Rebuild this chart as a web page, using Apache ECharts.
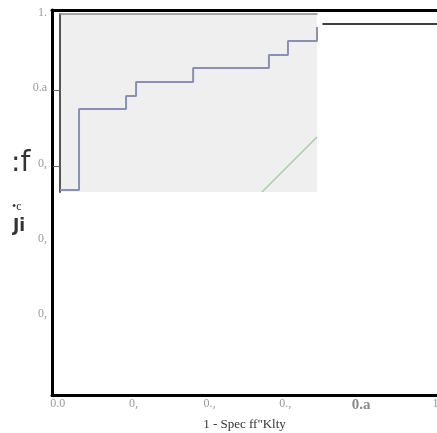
<!DOCTYPE html>
<html>
<head>
<meta charset="utf-8">
<script src="https://cdn.jsdelivr.net/npm/echarts@6/dist/echarts.min.js"></script>
<style>html,body{margin:0;padding:0;background:#fff}#c{width:437px;height:433px}</style>
</head>
<body>
<div id="c"></div>
<script>
// Outer axis tick labels (as they appear in the picture)
var xTickValues = [0, 0.2, 0.4, 0.6, 0.8, 1.0];
var xTickLabels = ['0.0', '0,', '0.,', '0.,', '0.a', '1.'];
var yTickValues = [0.2, 0.4, 0.6, 0.8, 1.0];
var yTickLabels = ['0,', '0,', '0,', '0.a', '1.'];
var xAxisTitle = '1 - Spec ff"Klty';

// Inset (cropped ROC panel) values, in inset units 0..1
var rocX = [0, 0.074, 0.257, 0.296, 0.518, 0.813, 0.887, 1.0];
var rocY = [0.011, 0.466, 0.539, 0.618, 0.697, 0.770, 0.848, 0.927];
var refX = [0.786, 1.0];
var refY = [0.0, 0.309];
var insetTickValues = [0.146, 0.573];

var chart = echarts.init(document.getElementById('c'));
var serif = '"Liberation Serif", "DejaVu Serif", serif';

function lab(vals, labs, boldIdx) {
  return function (v) {
    for (var i = 0; i < vals.length; i++) if (Math.abs(vals[i] - v) < 1e-6) {
      return i === boldIdx ? '{b|' + labs[i] + '}' : labs[i];
    }
    return '';
  };
}

chart.setOption({
  animation: false,
  backgroundColor: '#fff',
  grid: [
    {left: 52, right: 0, top: 10, bottom: 38, containLabel: false, outerBoundsMode: 'none'},
    {left: 60, top: 14, width: 257, height: 178, show: true, backgroundColor: '#efefef', borderWidth: 0, outerBoundsMode: 'none'},
    {left: 323, right: 0, top: 24, height: 1, outerBoundsMode: 'none'}
  ],
  xAxis: [
    {gridIndex: 0, type: 'value', min: -0.015, max: 1.0,
     axisLine: {show: true, onZero: false, lineStyle: {color: '#000', width: 3}},
     axisTick: {show: false}, splitLine: {show: false},
     axisLabel: {customValues: xTickValues, formatter: lab(xTickValues, xTickLabels, 4), color: '#9a9a9a', fontFamily: serif, fontSize: 12, margin: 3,
       rich: {b: {color: '#8a8a8a', fontFamily: serif, fontSize: 15, fontWeight: 'bold'}}},
     name: xAxisTitle, nameLocation: 'middle', nameGap: 19,
     nameTextStyle: {color: '#333', fontFamily: serif, fontSize: 13}},
    {gridIndex: 0, type: 'value', position: 'top', min: 0, max: 1,
     axisLine: {show: true, onZero: false, lineStyle: {color: '#000', width: 3}},
     axisTick: {show: false}, axisLabel: {show: false}, splitLine: {show: false}},
    {gridIndex: 1, type: 'value', min: 0, max: 1, show: true, position: 'top',
     axisLine: {show: true, onZero: false, lineStyle: {color: '#8a8a8a', width: 1.5}},
     axisTick: {show: false}, axisLabel: {show: false}, splitLine: {show: false}},
    {gridIndex: 2, type: 'value', min: 0, max: 1, position: 'top',
     axisLine: {show: true, onZero: false, lineStyle: {color: '#000', width: 1.5}},
     axisTick: {show: false}, axisLabel: {show: false}, splitLine: {show: false}}
  ],
  yAxis: [
    {gridIndex: 0, type: 'value', min: -0.016, max: 1.008,
     axisLine: {show: true, onZero: false, lineStyle: {color: '#000', width: 3}},
     axisTick: {show: false}, splitLine: {show: false},
     axisLabel: {customValues: yTickValues, formatter: lab(yTickValues, yTickLabels, -1), color: '#9a9a9a', fontFamily: serif, fontSize: 12, margin: 5}},
    {gridIndex: 1, type: 'value', min: 0, max: 1,
     axisLine: {show: true, onZero: false, lineStyle: {color: '#555', width: 2}},
     axisTick: {show: true, customValues: insetTickValues, inside: false, length: 7, lineStyle: {color: '#666', width: 1}},
     axisLabel: {show: false}, splitLine: {show: false}},
    {gridIndex: 2, type: 'value', min: 0, max: 1, show: false}
  ],
  graphic: [
    {type: 'text', left: 11, top: 150, style: {text: ':f', font: '28px "DejaVu Sans", sans-serif', fill: '#333'}},
    {type: 'text', left: 12, top: 201, style: {text: '•c', font: '12px "Liberation Serif", serif', fill: '#333'}},
    {type: 'text', left: 13, top: 218, style: {text: 'Ji', font: 'bold 17px "DejaVu Sans", sans-serif', fill: '#333'}}
  ],
  series: [
    {type: 'line', xAxisIndex: 2, yAxisIndex: 1, step: 'end', symbol: 'none',
     data: rocX.map(function (x, i) { return [x, rocY[i]]; }),
     lineStyle: {color: '#8a90b4', width: 2}},
    {type: 'line', xAxisIndex: 2, yAxisIndex: 1, symbol: 'none',
     data: refX.map(function (x, i) { return [x, refY[i]]; }),
     lineStyle: {color: '#9fd09f', width: 1.5}}
  ]
});
</script>
</body>
</html>
